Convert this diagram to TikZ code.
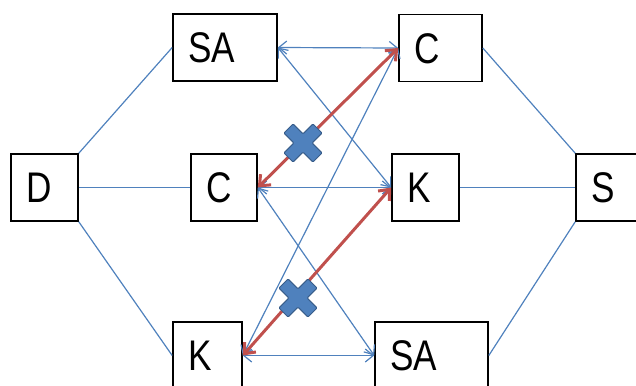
\documentclass[tikz,border=0pt]{standalone}
\usepackage{fontspec}
\newfontfamily\boxfont{Liberation Sans}[FakeStretch=0.82]
\usetikzlibrary{arrows.meta}
\definecolor{linkblue}{HTML}{4F81BD}
\definecolor{crossedge}{HTML}{385D8A}
\definecolor{linkred}{HTML}{C0504D}
\begin{document}
\begin{tikzpicture}[x=1bp,y=-1bp,
  box/.style={draw=black, line width=1.6bp, fill=white, inner xsep=15bp, inner ysep=0bp,
    minimum height=67bp, align=left, text height=30.5bp, text depth=0bp,
    font=\boxfont\fontsize{43}{43}\selectfont},
  link/.style={draw=linkblue, line width=1.2bp},
  duplex/.style={link, {Straight Barb[length=8bp,width=13bp]}-{Straight Barb[length=8bp,width=13bp]}},
  blocked/.style={draw=linkred, line width=3bp, {Straight Barb[length=9bp,width=15bp]}-{Straight Barb[length=9bp,width=15bp]}},
  xmark/.style={fill=linkblue, draw=crossedge, line width=1bp, rounded corners=1bp}]
\useasboundingbox (0,0) rectangle (636,385);

% boxes
\node[box, text width=74bp] (sa1) at (225,47.5) {SA};
\node[box, text width=53bp] (c1)  at (440.5,48) {C};
\node[box, text width=37bp] (d)   at (44.5,187.5) {D};
\node[box, text width=36bp] (c)   at (224,187.5) {C};
\node[box, text width=37bp] (k)   at (425.5,187.5) {K};
\node[box, text width=37bp] (s)   at (609.5,187.5) {S};
\node[box, text width=39bp] (k2)  at (207.5,355.5) {K};
\node[box, text width=83bp] (sa2) at (431.5,355.5) {SA};

% outer links
\draw[link] (d.north east) -- (sa1.west);
\draw[link] (d.east) -- (c.west);
\draw[link] (d.south east) -- (k2.west);
\draw[link] (c1.east) -- (s.north west);
\draw[link] (k.east) -- (s.west);
\draw[link] (s.south west) -- (sa2.east);

% links between the two middle columns
\draw[duplex] (sa1.east) -- (c1.west);
\draw[duplex] (sa1.east) -- (k.west);
\draw[duplex] (c.east) -- (k.west);
\draw[duplex] (c.east) -- (sa2.west);
\draw[duplex] (k2.east) -- (sa2.west);
\draw[duplex] (k2.east) -- (c1.west);

% blocked links
\draw[blocked] (c1.west) -- (c.east);
\draw[blocked] (k2.east) -- (k.west);

% cross marks on the blocked links
\foreach \cx/\cy in {303/143, 298/298}
  \path[xmark, shift={(\cx,\cy)}, rotate=45]
    (6.5,20.5) -- (6.5,6.5) -- (20.5,6.5) -- (20.5,-6.5) -- (6.5,-6.5) -- (6.5,-20.5)
    -- (-6.5,-20.5) -- (-6.5,-6.5) -- (-20.5,-6.5) -- (-20.5,6.5) -- (-6.5,6.5) -- (-6.5,20.5) -- cycle;
\end{tikzpicture}
\end{document}
